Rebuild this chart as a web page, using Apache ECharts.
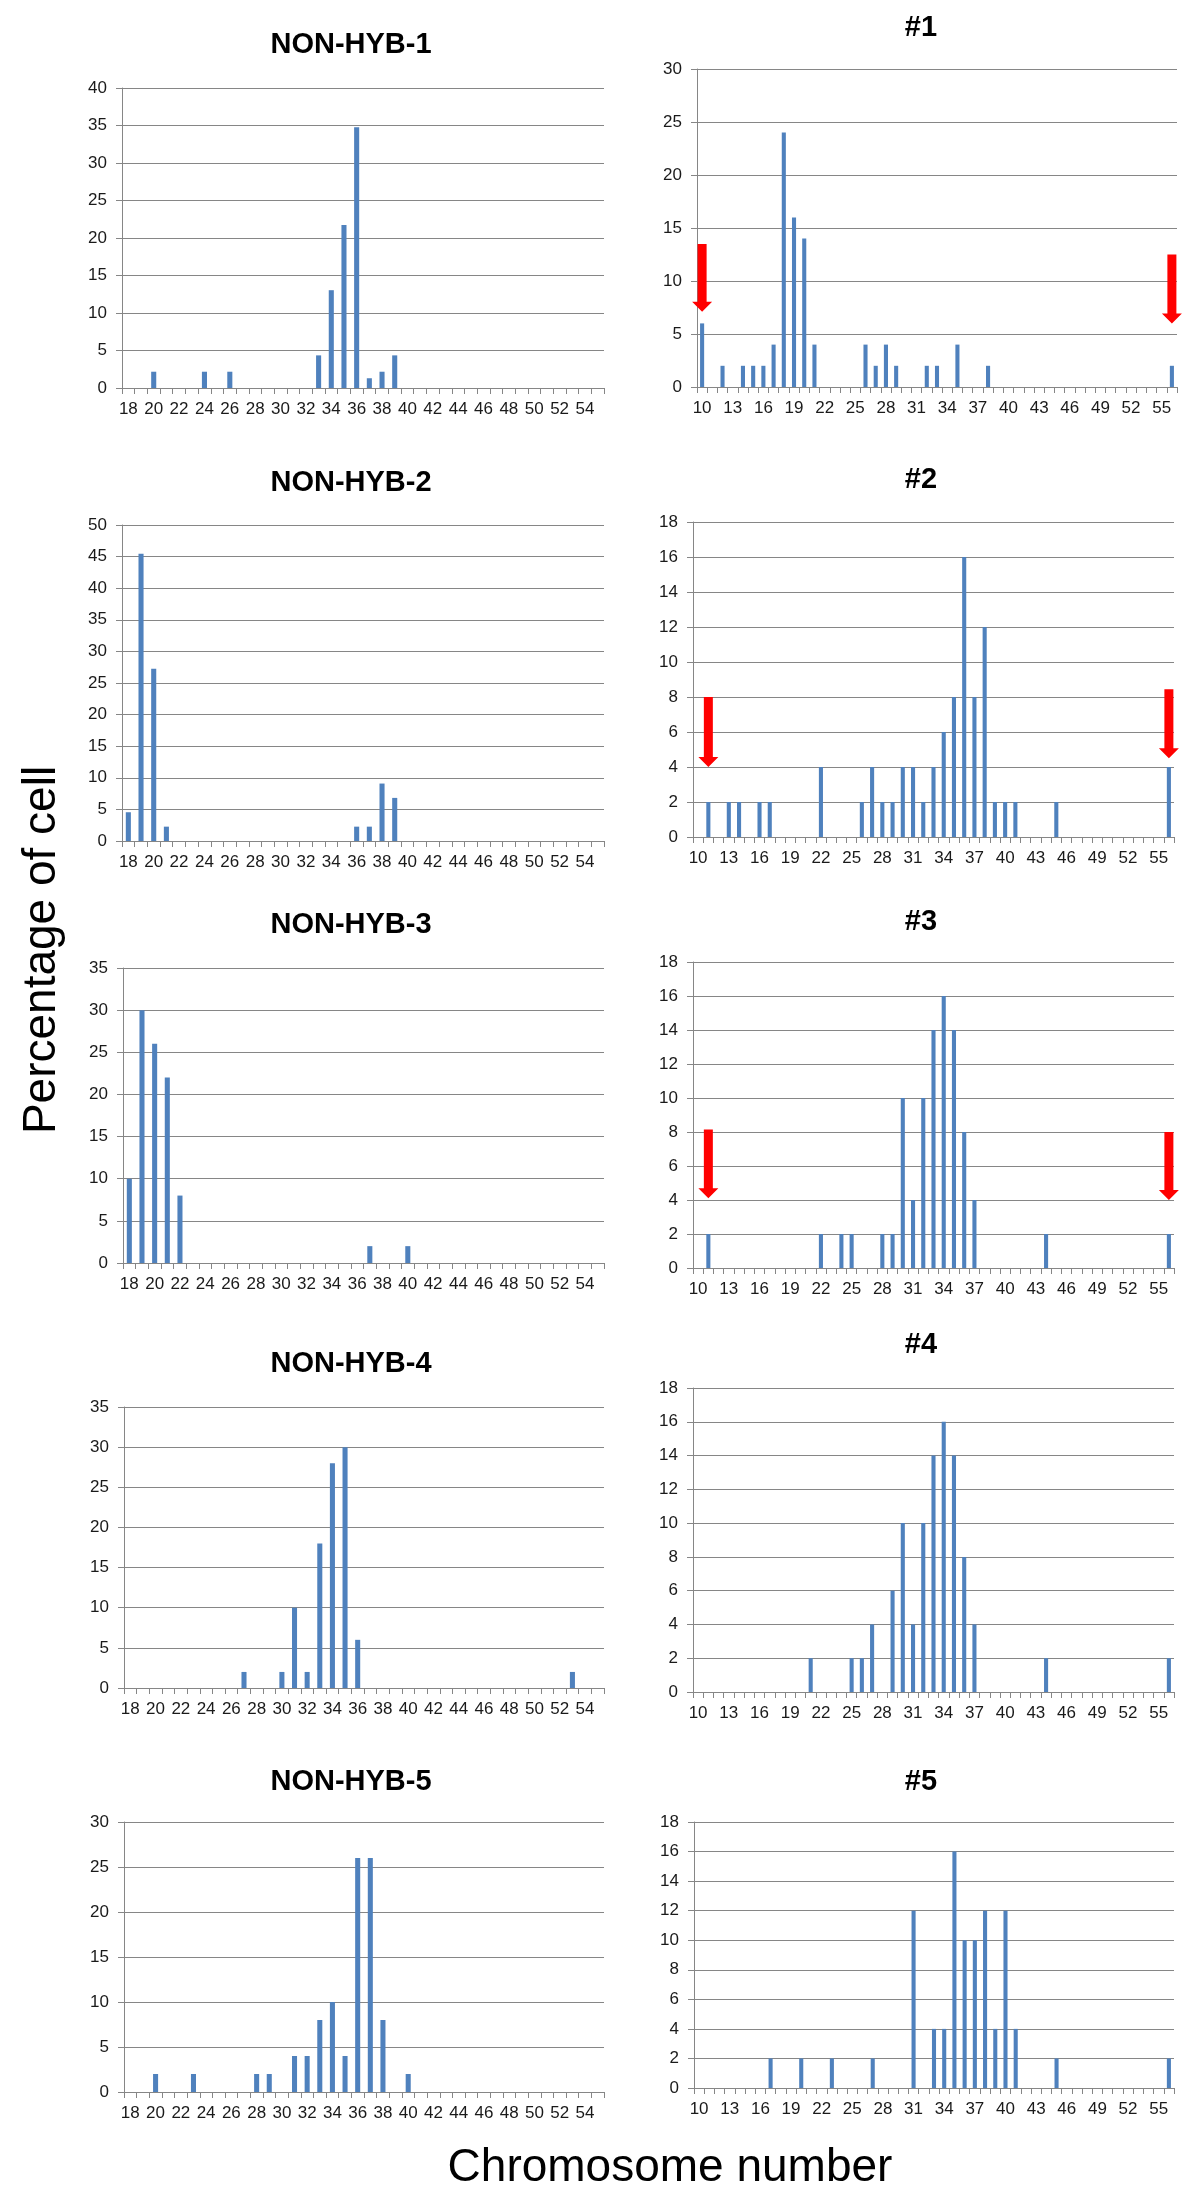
<!DOCTYPE html>
<html>
<head>
<meta charset="utf-8">
<script src="https://cdn.jsdelivr.net/npm/echarts@6/dist/echarts.min.js"></script>
<style>
html,body{margin:0;padding:0;background:#ffffff;}
#chart{width:1200px;height:2201px;}
</style>
</head>
<body>
<div id="chart"></div>
<script>
// ---------- categories (chromosome number) ----------
const leftCats = ['18','19','20','21','22','23','24','25','26','27','28','29','30','31','32','33','34','35','36','37',
                  '38','39','40','41','42','43','44','45','46','47','48','49','50','51','52','53','54','55'];
const rightCats = ['10','11','12','13','14','15','16','17','18','19','20','21','22','23','24','25','26','27','28','29',
                   '30','31','32','33','34','35','36','37','38','39','40','41','42','43','44','45','46','47','48','49',
                   '50','51','52','53','54','55','56'];

// ---------- percentage of cells, left column (18..55) ----------
const nonHyb1 = [0,0,2.17,0,0,0,2.17,0,2.17,0,0,0,0,0,0,4.35,13.04,21.74,34.78,1.3,2.17,4.35,
                 0,0,0,0,0,0,0,0,0,0,0,0,0,0,0,0];
const nonHyb2 = [4.55,45.45,27.27,2.27,0,0,0,0,0,0,0,0,0,0,0,0,0,0,2.27,2.27,9.09,6.82,
                 0,0,0,0,0,0,0,0,0,0,0,0,0,0,0,0];
const nonHyb3 = [10,30,26,22,8,0,0,0,0,0,0,0,0,0,0,0,0,0,0,2,0,0,2,
                 0,0,0,0,0,0,0,0,0,0,0,0,0,0,0];
const nonHyb4 = [0,0,0,0,0,0,0,0,0,2,0,0,2,10,2,18,28,30,6,
                 0,0,0,0,0,0,0,0,0,0,0,0,0,0,0,0,2,0,0];
const nonHyb5 = [0,0,2,0,0,2,0,0,0,0,2,2,0,4,4,8,10,4,26,26,8,0,2,
                 0,0,0,0,0,0,0,0,0,0,0,0,0,0,0];

// ---------- percentage of cells, right column (10..56) ----------
const hyb1 = [6,0,2,0,2,2,2,4,24,16,14,4,0,0,0,0,4,2,4,2,0,0,2,2,0,4,0,0,2,
              0,0,0,0,0,0,0,0,0,0,0,0,0,0,0,0,0,2];
const hyb2 = [0,2,0,2,2,0,2,2,0,0,0,0,4,0,0,0,2,4,2,2,4,4,2,4,6,8,16,8,12,2,2,2,
              0,0,0,2,0,0,0,0,0,0,0,0,0,0,4];
const hyb3 = [0,2,0,0,0,0,0,0,0,0,0,0,2,0,2,2,0,0,2,2,10,4,10,14,16,14,8,4,
              0,0,0,0,0,0,2,0,0,0,0,0,0,0,0,0,0,0,2];
const hyb4 = [0,0,0,0,0,0,0,0,0,0,0,2,0,0,0,2,2,4,0,6,10,4,10,14,16,14,8,4,
              0,0,0,0,0,0,2,0,0,0,0,0,0,0,0,0,0,0,2];
const hyb5 = [0,0,0,0,0,0,0,2,0,0,2,0,0,2,0,0,0,2,0,0,0,12,0,4,4,16,10,10,12,4,12,4,
              0,0,0,2,0,0,0,0,0,0,0,0,0,0,2];

// ---------- red arrows: [category, top value, tip value] ----------
const arrows1 = [['10',13.5,7.1],['56',12.5,6.0]];
const arrows2 = [['11',8.0,4.0],['56',8.45,4.5]];
const arrows3 = [['11',8.15,4.1],['56',8.0,4.0]];

// ---------- titles / y axis ranges ----------
const titles = ['NON-HYB-1','#1','NON-HYB-2','#2','NON-HYB-3','#3','NON-HYB-4','#4','NON-HYB-5','#5'];
const yMax   = [40,30,50,18,35,18,35,18,30,18];
const yStep  = [5,5,5,2,5,2,5,2,5,2];

// ---------- layout (pixels) ----------
const layout = [
  {grid:{left:122,top:88,width:482,height:300},  tx:351, ty:45},
  {grid:{left:697,top:69,width:480,height:318},  tx:921, ty:28},
  {grid:{left:122,top:525,width:482,height:316}, tx:351, ty:483},
  {grid:{left:693,top:522,width:481,height:315}, tx:921, ty:480},
  {grid:{left:123,top:968,width:481,height:295}, tx:351, ty:925},
  {grid:{left:693,top:962,width:481,height:306}, tx:921, ty:922},
  {grid:{left:124,top:1407,width:480,height:281},tx:351, ty:1364},
  {grid:{left:693,top:1388,width:481,height:304},tx:921, ty:1345},
  {grid:{left:124,top:1822,width:480,height:270},tx:351, ty:1782},
  {grid:{left:694,top:1822,width:480,height:266},tx:921, ty:1782}
];

const seriesData = [nonHyb1,hyb1,nonHyb2,hyb2,nonHyb3,hyb3,nonHyb4,hyb4,nonHyb5,hyb5];
const arrowData  = [null,arrows1,null,arrows2,null,arrows3,null,null,null,null];

const FONT = '"Liberation Sans", Arial, sans-serif';
const GRAY = '#868686';
const BLUE = '#4F81BD';
const TXT  = '#1a1a1a';

const chart = echarts.init(document.getElementById('chart'), null, {renderer:'canvas'});

const grids = [], xAxes = [], yAxes = [], series = [], graphics = [];

for (let i = 0; i < 10; i++) {
  const isLeft = (i % 2 === 0);
  const cats = isLeft ? leftCats : rightCats;
  grids.push(Object.assign({containLabel:false}, layout[i].grid));
  xAxes.push({
    type:'category', gridIndex:i, data:cats, boundaryGap:true,
    axisLine:{show:true, lineStyle:{color:GRAY, width:1}},
    axisTick:{show:true, interval:0, length:6, alignWithLabel:false, lineStyle:{color:GRAY}},
    axisLabel:{show:true, interval:isLeft ? 1 : 2, margin:13, color:TXT, fontSize:17, fontFamily:FONT},
    splitLine:{show:false}
  });
  yAxes.push({
    type:'value', gridIndex:i, min:0, max:yMax[i], interval:yStep[i],
    axisLine:{show:true, lineStyle:{color:GRAY, width:1}},
    axisTick:{show:true, length:6, lineStyle:{color:GRAY}},
    axisLabel:{show:true, margin:15, color:TXT, fontSize:17, fontFamily:FONT},
    splitLine:{show:true, lineStyle:{color:GRAY, width:1}}
  });
  series.push({
    type:'bar', xAxisIndex:i, yAxisIndex:i, data:seriesData[i],
    barWidth:'40%', itemStyle:{color:BLUE}, silent:true
  });
  if (arrowData[i]) {
    series.push({
      type:'custom', xAxisIndex:i, yAxisIndex:i, data:arrowData[i], z:10, silent:true,
      renderItem:function(params, api){
        const top = api.coord([api.value(0), api.value(1)]);
        const tip = api.coord([api.value(0), api.value(2)]);
        const x = top[0], sw = 4.5, hw = 10, hh = 10;
        return {
          type:'polygon',
          shape:{points:[[x-sw,top[1]],[x+sw,top[1]],[x+sw,tip[1]-hh],[x+hw,tip[1]-hh],
                         [x,tip[1]],[x-hw,tip[1]-hh],[x-sw,tip[1]-hh]]},
          style:{fill:'#FF0000'}
        };
      }
    });
  }
  graphics.push({
    type:'text', x:layout[i].tx, y:layout[i].ty, silent:true,
    style:{text:titles[i], fontFamily:FONT, fontSize:29, fontWeight:'bold', fill:'#000',
           align:'center', verticalAlign:'middle'}
  });
}

graphics.push({
  type:'text', x:42, y:950, rotation:Math.PI/2, silent:true,
  style:{text:'Percentage of cell', fontFamily:FONT, fontSize:46, fill:'#000',
         align:'center', verticalAlign:'middle'}
});
graphics.push({
  type:'text', x:670, y:2168, silent:true,
  style:{text:'Chromosome number', fontFamily:FONT, fontSize:46, fill:'#000',
         align:'center', verticalAlign:'middle'}
});

chart.setOption({
  animation:false,
  backgroundColor:'#ffffff',
  grid:grids, xAxis:xAxes, yAxis:yAxes, series:series, graphic:graphics
});
</script>
</body>
</html>
